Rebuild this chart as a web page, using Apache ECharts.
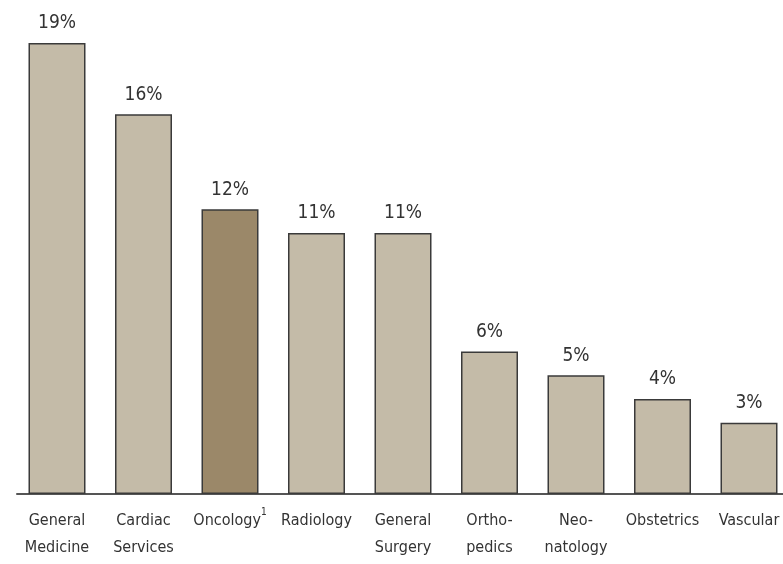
<!DOCTYPE html>
<html>
<head>
<meta charset="utf-8">
<script src="https://cdn.jsdelivr.net/npm/echarts@6/dist/echarts.min.js"></script>
<style>
  html, body { margin: 0; padding: 0; background: #fff; }
  #chart { width: 783px; height: 564px; }
</style>
</head>
<body>
<div id="chart"></div>
<script>
// service lines and their share (%)
var categories = [
  'General\nMedicine', 'Cardiac\nServices', 'Oncology{sup|1}', 'Radiology',
  'General\nSurgery', 'Ortho-\npedics', 'Neo-\nnatology', 'Obstetrics', 'Vascular'
]
var shares = [19, 16, 12, 11, 11, 6, 5, 4, 3]
var highlightIndex = 2

var FONT = '"DejaVu Sans Condensed", "Liberation Sans Narrow", sans-serif'
var chart = echarts.init(document.getElementById('chart'))

var option = {
  animation: false,
  grid: [
    // bars: category centres sit on the grid edges
    { left: 57, width: 692, top: 43, bottom: 70 },
    // wide grid only for the baseline
    { left: 17, right: 0, top: 43, bottom: 70 }
  ],
  xAxis: [{
    type: 'category',
    gridIndex: 0,
    boundaryGap: false,
    data: categories,
    axisTick: { show: false },
    axisLine: { show: false },
    axisLabel: {
      interval: 0,
      margin: 13,
      verticalAlign: 'top',
      color: '#333',
      fontFamily: FONT,
      fontSize: 16,
      lineHeight: 27,
      rich: {
        sup: { fontSize: 10, verticalAlign: 'top', color: '#333', fontFamily: FONT, padding: [0, 0, 8, 0] }
      }
    }
  }, {
    type: 'value',
    gridIndex: 1,
    min: 0,
    max: 1,
    axisLine: { show: true, lineStyle: { color: '#555', width: 2 } },
    axisTick: { show: false },
    axisLabel: { show: false },
    splitLine: { show: false }
  }],
  yAxis: [{
    type: 'value',
    gridIndex: 0,
    min: 0,
    max: 19,
    show: false
  }, {
    type: 'value',
    gridIndex: 1,
    show: false
  }],
  series: [{
    type: 'bar',
    xAxisIndex: 0,
    yAxisIndex: 0,
    barWidth: 57,
    z: 3,
    data: shares.map(function (v, i) {
      return {
        value: v,
        itemStyle: { color: i === highlightIndex ? '#9B8869' : '#C4BBA8' }
      }
    }),
    itemStyle: { borderColor: '#3a3a3a', borderWidth: 1.5 },
    label: {
      show: true,
      position: 'top',
      distance: 10,
      formatter: '{c}%',
      color: '#333',
      fontFamily: FONT,
      fontSize: 19
    }
  }]
}
chart.setOption(option)
</script>
</body>
</html>
